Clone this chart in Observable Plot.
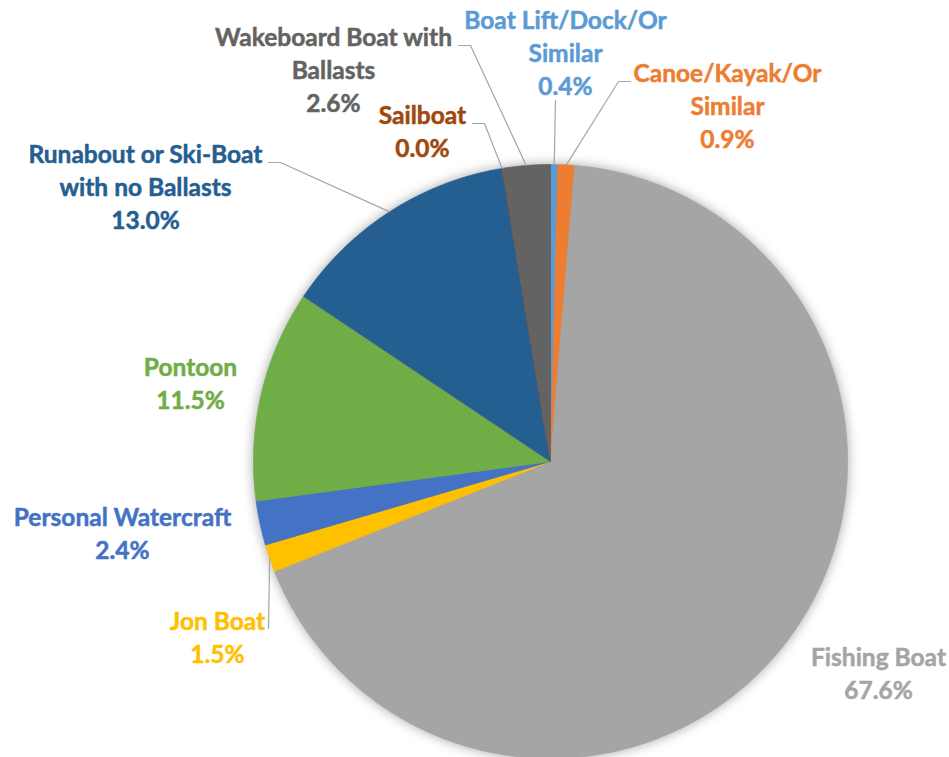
<!DOCTYPE html>
<html>
<head>
<meta charset="utf-8">
<script src="https://cdn.jsdelivr.net/npm/d3@7"></script>
<script src="https://cdn.jsdelivr.net/npm/@observablehq/plot@0.6"></script>
<style>
  html, body { margin: 0; padding: 0; background: #fff; }
  #chart svg { display: block; }
</style>
</head>
<body>
<div id="chart"></div>
<script>
// ---- data ----
const categories = [
  "Boat Lift/Dock/Or Similar",
  "Canoe/Kayak/Or Similar",
  "Fishing Boat",
  "Jon Boat",
  "Personal Watercraft",
  "Pontoon",
  "Runabout or Ski-Boat with no Ballasts",
  "Sailboat",
  "Wakeboard Boat with Ballasts"
];
const shares = [0.4, 0.9, 67.6, 1.5, 2.4, 11.5, 13.0, 0.0, 2.6];
const labelLines = [
  "Boat Lift/Dock/Or\nSimilar",
  "Canoe/Kayak/Or\nSimilar",
  "Fishing Boat",
  "Jon Boat",
  "Personal Watercraft",
  "Pontoon",
  "Runabout or Ski-Boat\nwith no Ballasts",
  "Sailboat",
  "Wakeboard Boat with\nBallasts"
];

// ---- styles / layout ----
const colors = ["#5B9BD5", "#ED7D31", "#A5A5A5", "#FFC000", "#4472C4", "#70AD47", "#255E91", "#9E480E", "#636363"];
const W = 949, H = 757, CX = 550, CY = 461, R = 297;
// label block centres in pixels (layout)
const labelPos = [
  [565, 51], [727, 104], [878, 671], [217, 635], [122, 531],
  [190, 381], [145, 185], [422, 129], [333, 68]
];
// leader line label-side points in pixels (layout); null = no leader
const leaderPts = [
  [[555, 100]],
  [[630, 81], [618, 81]],
  null,
  [[268, 628]],
  null,
  null,
  [[268, 162], [280, 162]],
  [[472, 123], [484, 123]],
  [[458, 45], [470, 45]]
];

const toU = px => (px - CX) / R;
const toV = py => (CY - py) / R;

const arcs = d3.pie().sort(null).value(d => d)(shares);

// slice polygons
const slicePts = [];
arcs.forEach((a, i) => {
  const n = Math.max(2, Math.ceil((a.endAngle - a.startAngle) / 0.005));
  slicePts.push({k: categories[i], x: 0, y: 0});
  for (let j = 0; j <= n; j++) {
    const t = a.startAngle + (a.endAngle - a.startAngle) * j / n;
    slicePts.push({k: categories[i], x: Math.sin(t), y: Math.cos(t)});
  }
  slicePts.push({k: categories[i], x: 0, y: 0});
});

// leader lines
const leaders = [];
arcs.forEach((a, i) => {
  if (!leaderPts[i]) return;
  leaderPts[i].forEach(p => leaders.push({k: categories[i], x: toU(p[0]), y: toV(p[1])}));
  const m = (a.startAngle + a.endAngle) / 2;
  leaders.push({k: categories[i], x: Math.sin(m), y: Math.cos(m)});
});

// labels
const labels = categories.map((c, i) => ({
  k: c,
  text: labelLines[i] + "\n" + shares[i].toFixed(1) + "%",
  x: toU(labelPos[i][0]),
  y: toV(labelPos[i][1])
}));

const chart = Plot.plot({
  width: W,
  height: H,
  margin: 0,
  x: {domain: [toU(0), toU(W)], range: [0, W], axis: null},
  y: {domain: [toV(H), toV(0)], range: [H, 0], axis: null},
  color: {domain: categories, range: colors},
  style: {fontFamily: "Lato, 'Open Sans', sans-serif", background: "#fff"},
  marks: [
    Plot.line(slicePts, {x: "x", y: "y", z: "k", fill: "k", stroke: "k", strokeWidth: 0.8, curve: "linear"}),
    Plot.line(leaders, {x: "x", y: "y", z: "k", stroke: "#A6A6A6", strokeWidth: 1.2}),
    Plot.text(labels, {
      x: "x", y: "y", text: "text", fill: "k", stroke: "k", strokeWidth: 0.5,
      fontSize: 24.5, fontWeight: "bold", lineHeight: 1.35,
      textAnchor: "middle", lineAnchor: "middle"
    })
  ]
});
document.getElementById("chart").appendChild(chart);
// soft outer shadow around the pie, like the original
const g = chart.querySelector('g[aria-label="line"]');
if (g) g.style.filter = "drop-shadow(0px 0px 6px rgba(0,0,0,0.35))";
</script>
</body>
</html>
